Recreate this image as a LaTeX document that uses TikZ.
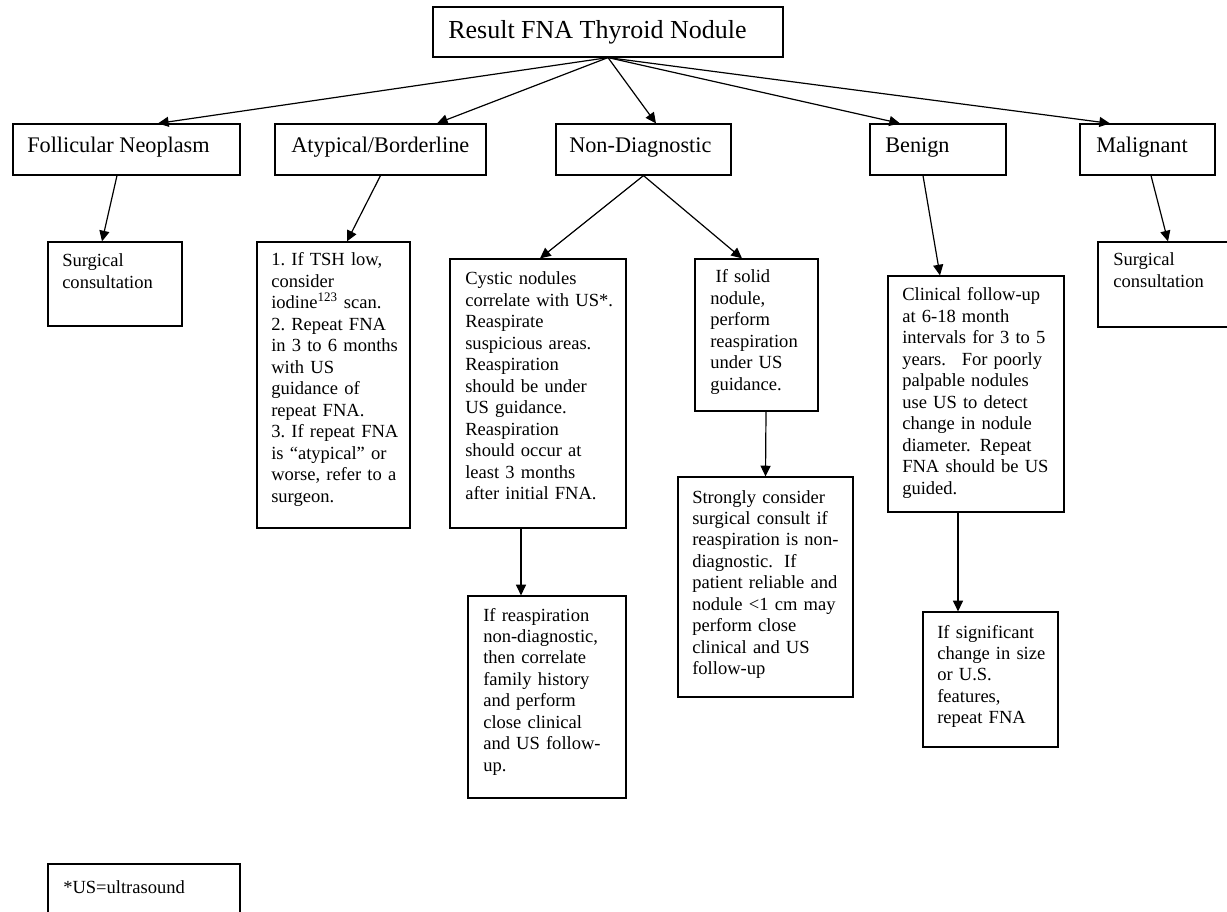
\documentclass[tikz,border=0pt]{standalone}
\usepackage{fontspec}
\setmainfont{Liberation Serif}
\usetikzlibrary{arrows.meta,calc,fit}

\begin{document}
\frenchspacing
\begin{tikzpicture}[x=0.75pt, y=-0.75pt, >={Triangle[length=8pt,width=7.5pt]},
	box/.style={draw, line width=0.9pt, inner sep=0pt},
	ttl/.style={anchor=base west, inner sep=0pt, font=\fontsize{19.5}{23}\selectfont},
	head/.style={anchor=base west, inner sep=0pt, font=\fontsize{16.7}{20}\selectfont},
	txt/.style={anchor=base west, inner sep=0pt, align=left, text width=160pt, font=\fontsize{13.9}{16.1}\selectfont},
	arr/.style={->, line width=0.9pt}]
	\useasboundingbox (0,0) rectangle (1227,912);
		\node[box, fit={(433,7) (783,57)}] (title) {};
		\node[ttl] at (448,39) {Result FNA Thyroid Nodule};
		
		\node[box, fit={(13,124) (240,175)}] (follic) {};
		\node[head] at (27,153) {Follicular Neoplasm};
		\node[box, fit={(275,124) (486,175)}] (atyp) {};
		\node[head] at (291,153) {Atypical/Borderline};
		\node[box, fit={(556,124) (731,175)}] (nondiag) {};
		\node[head] at (569,153) {Non-Diagnostic};
		\node[box, fit={(870,124) (1006,175)}] (benign) {};
		\node[head] at (885,153) {Benign};
		\node[box, fit={(1080,124) (1215,175)}] (malig) {};
		\node[head] at (1096,153) {Malignant};
		
		\node[box, fit={(48,242) (182,326)}] (surgA) {};
		\node[txt] at (62,267) {Surgical\\consultation};
		\node[box, fit={(257,242) (410,528)}] (atypbox) {};
		\node[txt] at (271,266) {1. If TSH low,\\consider\\iodine\textsuperscript{123} scan.\\2. Repeat FNA\\in 3 to 6 months\\with US\\guidance of\\repeat FNA.\\3. If repeat FNA\\is “atypical” or\\worse, refer to a\\surgeon.};
		\node[box, fit={(450,259) (626,528)}] (cystic) {};
		\node[txt] at (465,285) {Cystic nodules\\correlate with US*.\\Reaspirate\\suspicious areas.\\Reaspiration\\should be under\\US guidance.\\Reaspiration\\should occur at\\least 3 months\\after initial FNA.};
		\node[box, fit={(695,259) (818,411)}] (solid) {};
		\node[txt] at (710,283) {\hspace*{4pt}If solid\\nodule,\\perform\\reaspiration\\under US\\guidance.};
		\node[box, fit={(888,276) (1064,512)}] (clinical) {};
		\node[txt] at (902,301) {Clinical follow-up\\at 6-18 month\\intervals for 3 to 5\\years.\hspace{0.85em}For poorly\\palpable nodules\\use US to detect\\change in nodule\\diameter.\hspace{0.5em}Repeat\\FNA should be US\\guided.};
		\node[box, fit={(1098,242) (1240,327)}] (surgB) {};
		\node[txt] at (1113,266) {Surgical\\consultation};
		
		\node[box, fit={(468,596) (626,798)}] (reasp) {};
		\node[txt] at (483,621) {If reaspiration\\non-diagnostic,\\then correlate\\family history\\and perform\\close clinical\\and US follow-\\up.};
		\node[box, fit={(678,477) (853,697)}] (strong) {};
		\node[txt] at (692,503) {Strongly consider\\surgical consult if\\reaspiration is non-\\diagnostic.\hspace{0.6em}If\\patient reliable and\\nodule <1 cm may\\perform close\\clinical and US\\follow-up};
		\node[box, fit={(923,612) (1058,747)}] (signif) {};
		\node[txt] at (937,638) {If significant\\change in size\\or U.S.\\features,\\repeat FNA};
		
		\node[box, fit={(48,864) (240,925)}] (usnote) {};
		\node[txt] at (63,893) {*US=ultrasound};
		
		\draw[arr] (title.south) -- ($(follic.north)+(31.5,0)$);
		\draw[arr] (title.south) -- ($(atyp.north)+(56.5,0)$);
		\draw[arr] (title.south) -- ($(nondiag.north)+(12.5,0)$);
		\draw[arr] (title.south) -- ($(benign.north)+(-38,0)$);
		\draw[arr] (title.south) -- ($(malig.north)+(-37.5,0)$);
		\draw[arr] ($(follic.south)+(-9.5,0)$) -- ($(surgA.north)+(-13,0)$);
		\draw[arr] (atyp.south) -- ($(atypbox.north)+(13.5,0)$);
		\draw[arr] (nondiag.south) -- ($(cystic.north)+(2,0)$);
		\draw[arr] (nondiag.south) -- ($(solid.north)+(-14.5,0)$);
		\draw[arr] ($(benign.south)+(-15,0)$) -- ($(clinical.north)+(-36,0)$);
		\draw[arr] ($(malig.south)+(3.5,0)$) -- ($(surgB.north)+(-1,0)$);
		\draw[arr] ($(cystic.south)+(-17,0)$) -- ($(reasp.north)+(-26,0)$);
		\draw[arr] ($(solid.south)+(9.5,0)$) -- (strong.north);
		\draw[arr] ($(clinical.south)+(-18,0)$) -- ($(signif.north)+(-32.5,0)$);
\end{tikzpicture}
\end{document}
